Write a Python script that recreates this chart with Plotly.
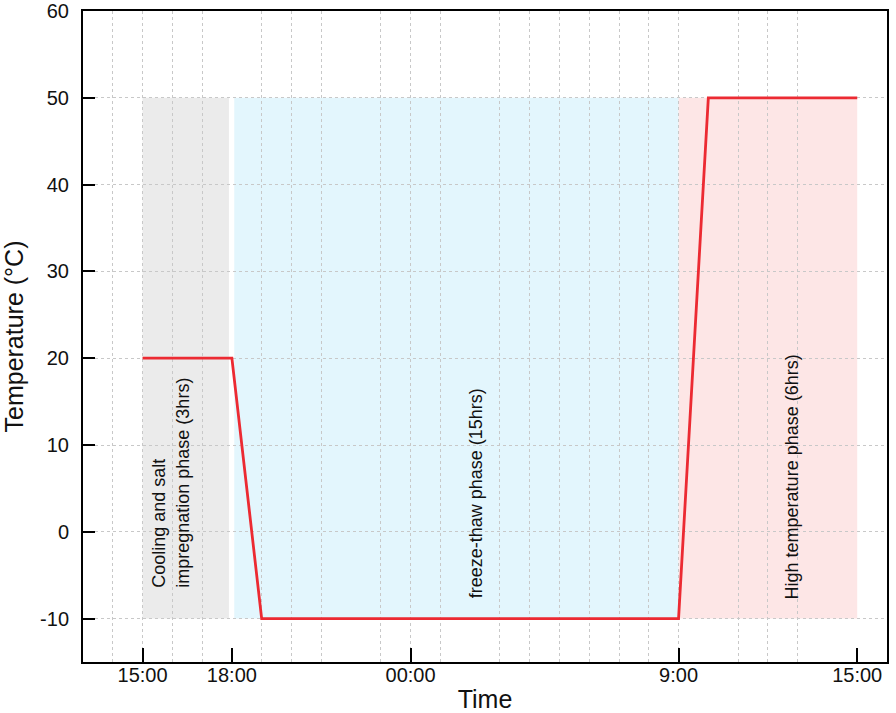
import plotly.graph_objects as go

# Temperature profile (hours after 15:00, °C)
time_h = [0, 3, 4, 18, 19, 24]
temp_c = [20, 20, -10, -10, 50, 50]

# Phase bands
phase_names = ["Cooling and salt<br>impregnation phase (3hrs)",
               "freeze-thaw phase (15hrs)",
               "High temperature phase (6hrs)"]
phase_start = [0, 3.08, 18]
phase_end = [2.9, 18, 24]
phase_low = -10
phase_high = 50
phase_colors = ["#ebebeb", "#e3f6fd", "#fde6e6"]
label_x = [0.94, 11.2, 21.82]
label_y = [5.6, 4.45, 6.3]

# Axis ticks
xtick_vals = [0, 3, 9, 18, 24]
xtick_text = ["15:00", "18:00", "00:00", "9:00", "15:00"]
xgrid_vals = [-1, 0, 1, 2, 4, 5, 6, 8, 9, 10, 12, 13, 14, 15, 16, 17, 18, 20, 21, 22]
ytick_vals = [-10, 0, 10, 20, 30, 40, 50, 60]
ytick_text = ["-10", "0", "10", "20", "30", "40", "50", "60"]

fig = go.Figure()

shapes = []
for s, e, c in zip(phase_start, phase_end, phase_colors):
    shapes.append(dict(type="rect", xref="x", yref="y", x0=s, x1=e,
                       y0=phase_low, y1=phase_high, fillcolor=c,
                       line=dict(width=0), layer="below"))

fig.add_trace(go.Scatter(x=time_h, y=temp_c, mode="lines",
                         line=dict(color="#ec2a32", width=2.8),
                         showlegend=False, hoverinfo="x+y"))

annotations = []
for name, x, y in zip(phase_names, label_x, label_y):
    annotations.append(dict(x=x, y=y, xref="x", yref="y", text=name,
                            showarrow=False, textangle=-90, align="left",
                            xanchor="center", yanchor="middle",
                            font=dict(family="Liberation Sans, Arial", size=18, color="#111111")))

fig.update_layout(
    width=896, height=713,
    margin=dict(l=83, r=9, t=11, b=51),
    paper_bgcolor="white", plot_bgcolor="white",
    shapes=shapes, annotations=annotations,
    font=dict(family="Liberation Sans, Arial", color="#111111"),
    xaxis=dict(
        range=[-2, 25], tickmode="array", tickvals=xtick_vals, ticktext=xtick_text,
        ticks="inside", ticklen=14, tickwidth=2, tickcolor="black",
        showline=True, linewidth=2, linecolor="black", mirror=True,
        showgrid=False, zeroline=False, automargin=False,
        tickfont=dict(size=20, color="#111111"),
        ticklabelstandoff=-6,
        title=dict(text="Time", font=dict(size=25, color="#111111")),
        minor=dict(tickmode="array", tickvals=xgrid_vals, showgrid=True,
                   gridcolor="#c8c8c8", griddash="3px,3px", gridwidth=1, ticks=""),
    ),
    yaxis=dict(
        range=[-15, 60], tickmode="array", tickvals=ytick_vals, ticktext=ytick_text,
        ticks="inside", ticklen=12, tickwidth=2, tickcolor="black",
        showline=True, linewidth=2, linecolor="black", mirror=True,
        showgrid=True, gridcolor="#c8c8c8", griddash="3px,3px", gridwidth=1,
        zeroline=False, automargin=False,
        tickfont=dict(size=20, color="#111111"),
        ticklabelstandoff=8,
        title=dict(text="Temperature (°C)", font=dict(size=25, color="#111111")),
    ),
)

fig.write_html("out.html", config={"displayModeBar": False},
               post_script="document.body.style.margin='0';document.body.style.overflow='hidden';")
